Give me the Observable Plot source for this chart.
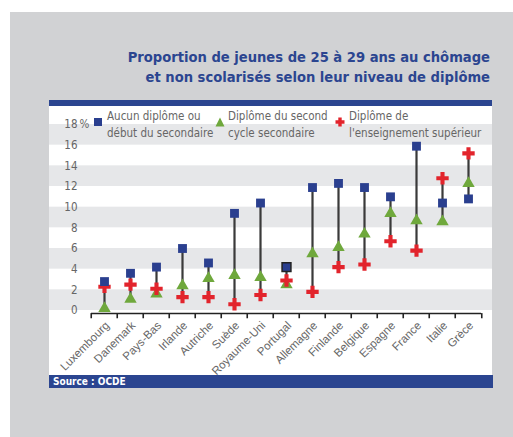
<!DOCTYPE html>
<html><head><meta charset="utf-8">
<script src="https://cdn.jsdelivr.net/npm/d3@7"></script>
<script src="https://cdn.jsdelivr.net/npm/@observablehq/plot@0.6"></script>
<style>
body{margin:0;background:#fff;width:513px;height:437px;position:relative;overflow:hidden;font-family:"Liberation Sans Narrow","DejaVu Sans Condensed",sans-serif;}
#card{position:absolute;left:10px;top:12px;width:503px;height:425px;background:#d1d2d4;}
#title{position:absolute;right:23px;top:47px;text-align:right;color:#2b4590;font-weight:bold;font-size:14.6px;line-height:20px;white-space:nowrap;}
#topbar{position:absolute;left:49px;top:100px;width:443px;height:6px;background:#2b4590;}
#chart{position:absolute;left:49px;top:106px;width:443px;height:269px;background:#fff;}
#botbar{position:absolute;left:49px;top:375px;width:444px;height:13px;background:#2b4590;color:#fff;font-weight:bold;font-size:10px;line-height:13px;}
#botbar span{margin-left:4px;}
.leg{position:absolute;color:#666;font-size:11.5px;line-height:17px;white-space:nowrap;}
.sym{position:absolute;}
</style></head><body>
<div id="card"></div>
<div id="title">Proportion de jeunes de 25 à 29 ans au chômage<br>et non scolarisés selon leur niveau de diplôme</div>
<div id="topbar"></div>
<div id="chart"></div>
<div id="botbar"><span>Source : OCDE</span></div>
<div id="legend"></div>
<script>
const countries = ["Luxembourg","Danemark","Pays-Bas","Irlande","Autriche","Suède","Royaume-Uni","Portugal","Allemagne","Finlande","Belgique","Espagne","France","Italie","Grèce"];
const aucun     = [2.8, 3.6, 4.2, 6.0, 4.6, 9.4, 10.4, 4.2, 11.9, 12.3, 11.9, 11.0, 15.9, 10.4, 10.8];
const second    = [0.2, 1.1, 1.6, 2.4, 3.1, 3.4, 3.2, 2.5, 5.5, 6.1, 7.4, 9.4, 8.7, 8.6, 12.3];
const superieur = [2.3, 2.5, 2.1, 1.3, 1.3, 0.6, 1.5, 2.9, 1.8, 4.2, 4.45, 6.7, 5.8, 12.8, 15.2];
const yTicks = [0, 2, 4, 6, 8, 10, 12, 14, 16, 18];
const bands = [[0, 2], [4, 6], [8, 10], [12, 14], [16, 18]];
const legendLabels = [["Aucun diplôme ou", "début du secondaire"], ["Diplôme du second", "cycle secondaire"], ["Diplôme de", "l'enseignement supérieur"]];

const BLUE = "#2a3f8f", GREEN = "#6fa83c", RED = "#e2242c";
const W = 443, H = 269;
const xRange = [38, 436];
const bw = (xRange[1] - xRange[0]) / countries.length;

const rows = countries.map((c, i) => ({country: c, aucun: aucun[i], second: second[i], superieur: superieur[i],
  lo: Math.min(aucun[i], second[i], superieur[i]), hi: Math.max(aucun[i], second[i], superieur[i])}));

const plot = Plot.plot({
  width: W, height: H,
  marginTop: 0, marginBottom: 0, marginLeft: 0, marginRight: 0,
  style: {fontFamily: '"Liberation Sans Narrow","DejaVu Sans Condensed",sans-serif', background: "white", overflow: "visible"},
  x: {type: "band", domain: countries, range: xRange, padding: 0, axis: null},
  y: {domain: [0, 18], range: [204, 18], axis: null},
  marks: [
    Plot.rectY(bands, {y1: d => d[0], y2: d => d[1], fill: "#e6e7e9"}),
    Plot.ruleY([0], {x1: () => countries[0], x2: () => countries[countries.length - 1], dy: 3, stroke: "#222", strokeWidth: 1.6}),
    Plot.ruleX(countries, {x: d => d, dx: -bw / 2, y1: -0.3, y2: -0.8, stroke: "#222", strokeWidth: 1.6}),
    Plot.ruleX(countries.slice(-1), {x: d => d, dx: bw / 2, y1: -0.3, y2: -0.8, stroke: "#222", strokeWidth: 1.6}),
    Plot.text(yTicks, {y: d => d, text: d => String(d), frameAnchor: "left", dx: 28, textAnchor: "end", fill: "#666", fontSize: 11.5}),
    Plot.text([18], {y: d => d, text: () => "%", frameAnchor: "left", dx: 30, textAnchor: "start", fill: "#666", fontSize: 11.5}),
    Plot.text(countries, {x: d => d, y: () => 0, text: d => d, rotate: -45, textAnchor: "end", dx: 3, dy: 13, fill: "#666", fontSize: 11.5, fontFamily: '"Liberation Sans","DejaVu Sans",sans-serif'}),
    Plot.ruleX(rows, {x: "country", y1: "lo", y2: "hi", stroke: "#3a3a3a", strokeWidth: 2.2}),
    Plot.dot(rows, {x: "country", y: "second", symbol: "triangle", r: 4.6, fill: GREEN}),
    Plot.dot(rows, {x: "country", y: "superieur", symbol: "cross", r: 5.2, fill: RED}),
    Plot.dot(rows, {x: "country", y: "aucun", symbol: "square", r: 5, fill: BLUE, stroke: d => d.country === "Portugal" ? "#222" : "none", strokeWidth: 1.5})
  ]
});
document.getElementById("chart").appendChild(plot);

// legend
const legend = document.getElementById("legend");
const syms = [
  `<svg width="10" height="10"><rect x="1" y="1" width="8" height="8" fill="${BLUE}"/></svg>`,
  `<svg width="10" height="10"><path d="M5,0.5 L9.5,9.5 L0.5,9.5Z" fill="${GREEN}"/></svg>`,
  `<svg width="10" height="10"><path d="M3.3,0.5h3.4v2.8h2.8v3.4h-2.8v2.8h-3.4v-2.8h-2.8v-3.4h2.8z" fill="${RED}"/></svg>`
];
const symX = [93, 215, 335], txtX = [107, 228, 349];
legendLabels.forEach((lab, i) => {
  const s = document.createElement("div");
  s.className = "sym"; s.style.left = symX[i] + "px"; s.style.top = "112px"; s.innerHTML = syms[i];
  legend.appendChild(s);
  const t = document.createElement("div");
  t.className = "leg"; t.style.left = txtX[i] + "px"; t.style.top = "108px";
  t.innerHTML = lab.join("<br>");
  legend.appendChild(t);
});
</script>
</body></html>
